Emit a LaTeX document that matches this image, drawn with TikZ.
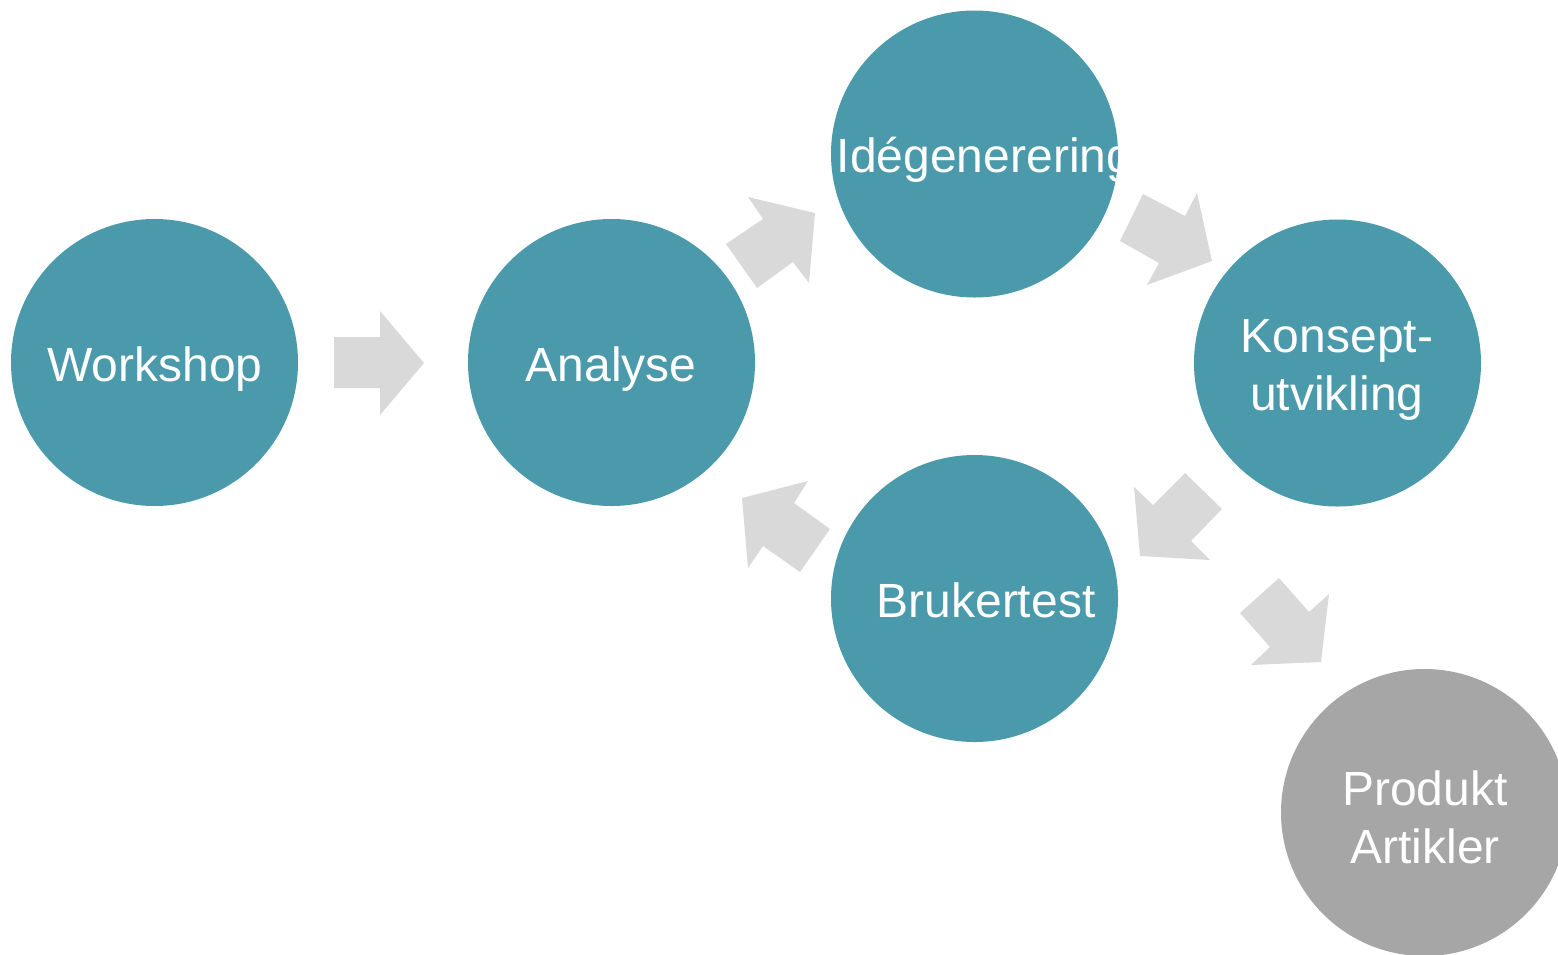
\documentclass[tikz,border=0pt]{standalone}
\usepackage{fontspec}
\setmainfont{Liberation Sans}
\definecolor{teal}{RGB}{74,154,172}
\definecolor{prodgray}{RGB}{166,166,166}
\definecolor{arrowgray}{RGB}{217,217,217}
\begin{document}
\begin{tikzpicture}[x=1pt,y=-1pt,
  stage/.style={circle,fill=teal,minimum size=287pt,inner sep=0pt,draw=none},
  final/.style={circle,fill=prodgray,minimum size=287pt,inner sep=0pt,draw=none},
  lbl/.style={text=white,anchor=base,inner sep=0pt,font=\fontsize{48}{58}\selectfont},
  blockarrow/.style={fill=arrowgray,draw=none}]
\useasboundingbox (0,0) rectangle (1558,954);
\clip (0,0) rectangle (1558,954);
% circles
\node[stage] (workshop) at (154.5,362.5) {};
\node[stage] (analyse) at (611.5,362.5) {};
\node[stage] (ide) at (974.5,154) {};
\node[stage] (konsept) at (1337.5,363) {};
\node[stage] (bruker) at (974.5,598.5) {};
\node[final] (produkt) at (1424.5,812.5) {};
% labels
\node[lbl] (tworkshop) at (155,381) {Workshop};
\node[lbl] (tanalyse) at (611,381) {Analyse};
\begin{scope}
\clip (ide.center) circle (143.5);
\node[lbl] (tide) at (985,172) {Idégenerering};
\end{scope}
\node[lbl] (tkonsept1) at (1337,352) {Konsept-};
\node[lbl] (tkonsept2) at (1337,410) {utvikling};
\node[lbl] (tbruker) at (986,617) {Brukertest};
\node[lbl] (tprodukt1) at (1425,805) {Produkt};
\node[lbl] (tprodukt2) at (1425,863) {Artikler};
% block arrows
\fill[blockarrow] (334,337) -- (380,337) -- (380,311) -- (424,363) -- (380,415) -- (380,388) -- (334,388) -- cycle;
\fill[blockarrow] (748,197) -- (815,213) -- (809,283) -- (793,262) -- (757,288) -- (726,244) -- (763,219) -- cycle;
\fill[blockarrow] (1143,194) -- (1185,216) -- (1197,193) -- (1212,261) -- (1147,285) -- (1159,263) -- (1120,241) -- cycle;
\fill[blockarrow] (1134,487) -- (1153,505) -- (1185,473) -- (1222,509) -- (1191,541) -- (1210,560) -- (1140,556) -- cycle;
\fill[blockarrow] (742,498) -- (808,481) -- (794,503) -- (830,529) -- (800,572) -- (763,546) -- (748,568) -- cycle;
\fill[blockarrow] (1279,578) -- (1309,612) -- (1329,594) -- (1321,662) -- (1251,665) -- (1270,647) -- (1240,613) -- cycle;
\end{tikzpicture}
\end{document}
